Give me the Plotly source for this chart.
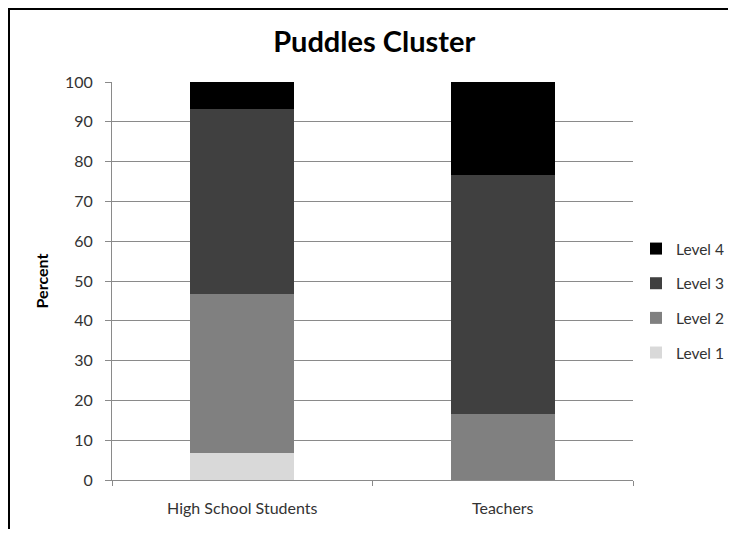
import plotly.graph_objects as go

categories = ["High School Students", "Teachers"]
levels = ["Level 1", "Level 2", "Level 3", "Level 4"]
level1 = [6.7, 0.0]
level2 = [40.0, 16.7]
level3 = [46.6, 60.0]
level4 = [6.7, 23.3]
series = [level1, level2, level3, level4]
colors = ["#d9d9d9", "#808080", "#404040", "#000000"]
y_ticks = list(range(0, 101, 10))

FONT = "Lato"
TXT = "#333333"

fig = go.Figure()
for i, (name, vals, col) in enumerate(zip(levels, series, colors)):
    fig.add_trace(go.Bar(
        x=categories, y=vals, name=name, legendgroup=name,
        legendrank=100 - i,
        marker=dict(color=col, line=dict(width=0)),
    ))

# page has an 8px body margin on every side; keep the figure inside the window
OFF = 8
W, H = 736 - 2 * OFF, 537 - 2 * OFF
L = 112 - OFF
T = 82 - OFF
R = W - (633 - OFF)
B = H - (480 - OFF)
pw, ph = W - L - R, H - T - B

def px_x(p):
    return (p - OFF - L) / pw

def px_y(p):
    return 1 - (p - OFF - T) / ph

fig.update_layout(
    width=W, height=H,
    margin=dict(l=L, r=R, t=T, b=B, autoexpand=False),
    barmode="stack", bargap=0.6,
    paper_bgcolor="white", plot_bgcolor="white",
    font=dict(family=FONT, size=16, color=TXT),
    title=dict(text="<b>Puddles Cluster</b>", x=px_x(377), xanchor="center",
               y=1 - (42 - OFF) / H, yanchor="middle",
               font=dict(family=FONT, size=29, color="black")),
    legend=dict(x=px_x(636), xanchor="left", y=px_y(232), yanchor="top",
                traceorder="grouped", tracegroupgap=11.5,
                font=dict(family=FONT, size=15.5, color=TXT),
                itemwidth=30, bgcolor="rgba(0,0,0,0)"),
    showlegend=True,
    yaxis2=dict(overlaying="y", side="left", range=[0, 100], tickvals=y_ticks,
                ticks="inside", ticklen=5, tickcolor="#8a8a8a",
                showticklabels=False, showgrid=False, showline=False, zeroline=False),
)
fig.update_layout(yaxis=dict(
    range=[0, 100], tickvals=y_ticks, showgrid=True, gridcolor="#8a8a8a", gridwidth=1,
    showline=True, linecolor="#8a8a8a", linewidth=1, ticks="outside", ticklen=6,
    tickcolor="#8a8a8a", ticklabelstandoff=9,
    tickfont=dict(family=FONT, size=16, color=TXT),
    title=dict(text="<b>Percent</b>", font=dict(family=FONT, size=16, color="black"), standoff=12),
    zeroline=False,
))
fig.update_xaxes(
    showline=True, linecolor="#8a8a8a", linewidth=1, ticks="outside", ticklen=5,
    tickcolor="#8a8a8a", tickson="boundaries", ticklabelstandoff=14,
    tickfont=dict(family=FONT, size=16, color=TXT),
)
fig.add_shape(type="rect", xref="paper", yref="paper",
              x0=px_x(OFF + 1), x1=px_x(760), y0=px_y(560), y1=px_y(OFF + 1),
              line=dict(color="black", width=2), fillcolor="rgba(0,0,0,0)", layer="above")

fig.write_html("out.html")
